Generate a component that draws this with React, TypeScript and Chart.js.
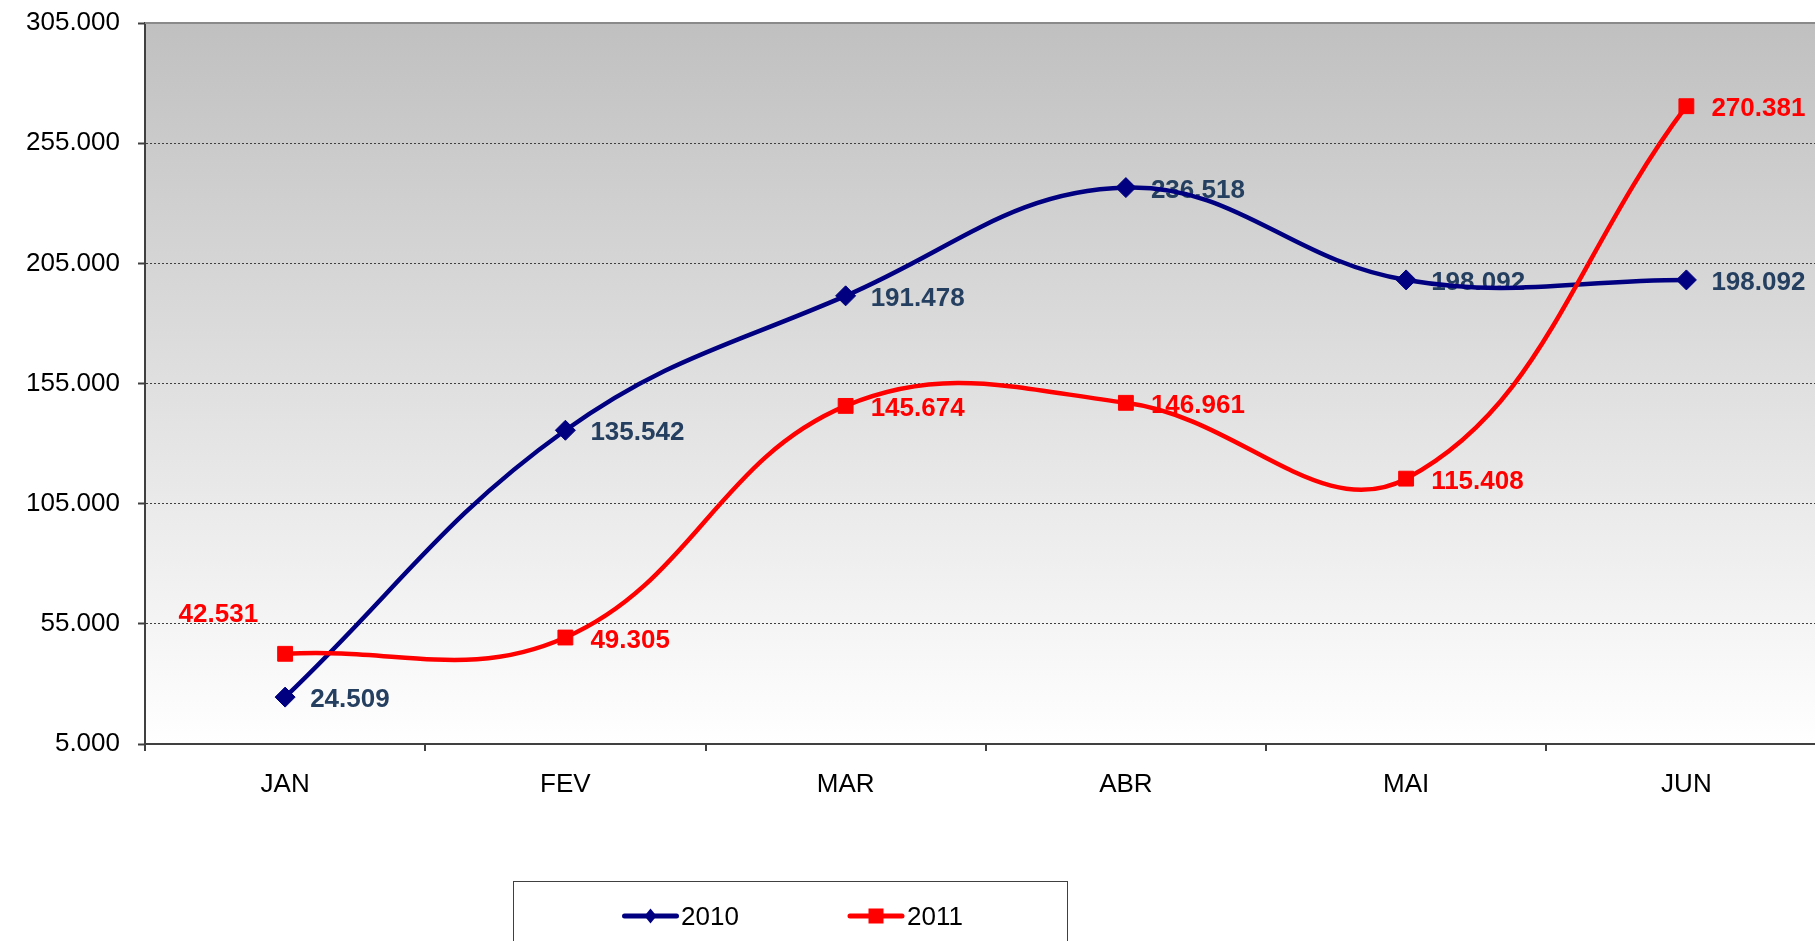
import React, { useEffect, useRef } from 'react';
import { Chart, registerables } from 'chart.js';

Chart.register(...registerables);

const categories = ['JAN', 'FEV', 'MAR', 'ABR', 'MAI', 'JUN'];
const seriesNames = ['2010', '2011'];
const values2010 = [24509, 135542, 191478, 236518, 198092, 198092];
const values2011 = [42531, 49305, 145674, 146961, 115408, 270381];
const yTicks = [5000, 55000, 105000, 155000, 205000, 255000, 305000];

const FONT = "'Liberation Sans', Arial, Helvetica, sans-serif";
const fmt = (v: number) => String(Math.round(v)).replace(/\B(?=(\d{3})+(?!\d))/g, '.');

const plotBgPlugin = {
  id: 'plotBg',
  beforeDraw(chart: any) {
    const { ctx, chartArea: a } = chart;
    const g = ctx.createLinearGradient(0, a.top, 0, a.bottom);
    g.addColorStop(0, '#c0c0c0');
    g.addColorStop(1, '#ffffff');
    ctx.save();
    ctx.fillStyle = g;
    ctx.fillRect(a.left, a.top, a.right - a.left, a.bottom - a.top);
    ctx.restore();
  },
  beforeDatasetsDraw(chart: any) {
    const { ctx, chartArea: a } = chart;
    ctx.save();
    ctx.strokeStyle = '#8a8a8a';
    ctx.lineWidth = 2;
    ctx.beginPath();
    ctx.moveTo(a.left, a.top);
    ctx.lineTo(a.right, a.top);
    ctx.stroke();
    ctx.restore();
  },
};

const labelColors = ['#243F60', '#FF0000'];

const dataLabelPlugin = {
  id: 'dataLabels',
  beforeDatasetsDraw(chart: any) {
    const { ctx } = chart;
    ctx.save();
    ctx.font = `bold 26px ${FONT}`;
    chart.data.datasets.forEach((ds: any, di: number) => {
      const meta = chart.getDatasetMeta(di);
      meta.data.forEach((pt: any, i: number) => {
        const text = fmt(ds.data[i]);
        const upperLeft = di === 1 && i === 0;
        ctx.fillStyle = labelColors[di];
        ctx.textBaseline = 'alphabetic';
        ctx.textAlign = upperLeft ? 'right' : 'left';
        const x = upperLeft ? pt.x - 27 : pt.x + 25;
        const y = upperLeft ? pt.y - 32 : pt.y + 10;
        ctx.fillText(text, x, y);
      });
    });
    ctx.restore();
  },
};

const boxLegendPlugin = {
  id: 'boxLegend',
  afterDraw(chart: any) {
    const { ctx } = chart;
    ctx.save();
    ctx.strokeStyle = '#404040';
    ctx.lineWidth = 1;
    ctx.strokeRect(513.5, 881.5, 554, 100);
    const entries = [
      { x: 623, textX: 681 },
      { x: 848.5, textX: 907 },
    ];
    const cy = 916;
    chart.data.datasets.forEach((ds: any, di: number) => {
      const e = entries[di];
      ctx.strokeStyle = ds.borderColor;
      ctx.fillStyle = ds.borderColor;
      ctx.lineWidth = 5;
      ctx.lineCap = 'round';
      ctx.beginPath();
      ctx.moveTo(e.x + 1.5, cy);
      ctx.lineTo(e.x + 53.5, cy);
      ctx.stroke();
      const mx = e.x + 27.5;
      if (ds.pointStyle === 'rectRot') {
        ctx.beginPath();
        ctx.moveTo(mx, cy - 7.5);
        ctx.lineTo(mx + 6, cy);
        ctx.lineTo(mx, cy + 7.5);
        ctx.lineTo(mx - 6, cy);
        ctx.closePath();
        ctx.fill();
      } else {
        ctx.fillRect(mx - 7.5, cy - 7.5, 15, 15);
      }
      ctx.fillStyle = '#000';
      ctx.textAlign = 'left';
      ctx.textBaseline = 'alphabetic';
      ctx.font = `26px ${FONT}`;
      ctx.fillText(ds.label, e.textX, cy + 9);
    });
    ctx.restore();
  },
};

export default function App() {
  const ref = useRef<HTMLCanvasElement | null>(null);

  useEffect(() => {
    if (!ref.current) return;
    const chart = new Chart(ref.current, {
      type: 'line',
      data: {
        labels: categories,
        datasets: [
          {
            label: seriesNames[0],
            data: values2010,
            borderColor: '#000080',
            backgroundColor: '#000080',
            borderWidth: 4.5,
            pointStyle: 'rectRot',
            pointRadius: 10,
            pointHoverRadius: 10,
            pointBackgroundColor: '#000080',
            pointBorderColor: '#000080',
            pointBorderWidth: 1,
            tension: 0.4,
            fill: false,
            order: 1,
          },
          {
            label: seriesNames[1],
            data: values2011,
            borderColor: '#FF0000',
            backgroundColor: '#FF0000',
            borderWidth: 4.5,
            pointStyle: 'rect',
            pointRadius: 10.5,
            pointHoverRadius: 10.5,
            pointBackgroundColor: '#FF0000',
            pointBorderColor: '#FF0000',
            pointBorderWidth: 1,
            tension: 0.4,
            fill: false,
            order: 0,
          },
        ],
      },
      options: {
        responsive: false,
        animation: false,
        devicePixelRatio: 1,
        layout: { padding: { top: 23, right: 5, left: 0, bottom: 0 } },
        plugins: {
          legend: { display: false },
          tooltip: { enabled: false },
          title: { display: false },
        },
        scales: {
          x: {
            type: 'category',
            offset: true,
            grid: {
              offset: true,
              drawOnChartArea: false,
              drawTicks: true,
              tickLength: 7,
              color: '#404040',
              lineWidth: 2,
            },
            border: { display: true, color: '#404040', width: 2 },
            ticks: {
              color: '#000',
              font: { family: FONT, size: 26 },
              padding: 18,
              maxRotation: 0,
              autoSkip: false,
            },
            afterFit: (s: any) => {
              s.height = 197;
              s.paddingLeft = 0;
              s.paddingRight = 0;
              s.paddingTop = 0;
              s.paddingBottom = 0;
            },
          },
          y: {
            type: 'linear',
            min: 5000,
            max: 305000,
            afterBuildTicks: (s: any) => {
              s.ticks = yTicks.map((v) => ({ value: v }));
            },
            grid: {
              color: '#404040',
              lineWidth: 1,
              drawTicks: true,
              tickLength: 7,
              tickWidth: 2,
              tickColor: '#404040',
            },
            border: { display: true, color: '#404040', width: 2, dash: [2, 2] },
            ticks: {
              color: '#000',
              font: { family: FONT, size: 26 },
              padding: 18,
              callback: (v: any) => fmt(Number(v)),
            },
            afterFit: (s: any) => {
              s.width = 145;
              s.paddingLeft = 0;
              s.paddingRight = 0;
              s.paddingTop = 0;
              s.paddingBottom = 0;
            },
          },
        },
      },
      plugins: [plotBgPlugin, dataLabelPlugin, boxLegendPlugin],
    } as any);
    return () => chart.destroy();
  }, []);

  return (
    <div
      style={{
        position: 'fixed',
        left: 0,
        top: 0,
        width: 1815,
        height: 941,
        overflow: 'hidden',
        background: '#fff',
      }}
    >
      <canvas
        ref={ref}
        width={1838}
        height={941}
        style={{ display: 'block', width: 1838, height: 941 }}
      />
    </div>
  );
}
